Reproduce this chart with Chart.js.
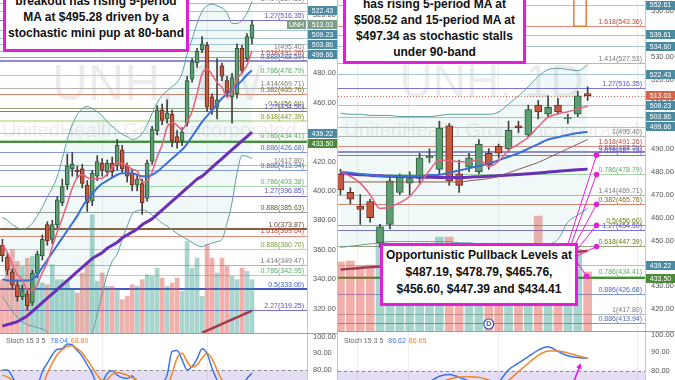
<!DOCTYPE html>
<html>
<head>
<meta charset="utf-8">
<title>UNH weekly and daily</title>
<script src="https://cdn.jsdelivr.net/npm/chart.js@4.4.1/dist/chart.umd.min.js"></script>
<style>
html,body{margin:0;padding:0;background:#ffffff;}
#wrap{position:relative;width:675px;height:380px;overflow:hidden;background:#fff;}
#wrap canvas{position:absolute;display:block;}
.sep{position:absolute;left:337px;top:0;width:1px;height:380px;background:#c4c4c4;}
.note{position:absolute;box-sizing:border-box;border:3px solid #e21fd8;background:#fff;color:#111;font-family:"Liberation Sans",Arial,sans-serif;font-weight:bold;font-size:12px;text-align:center;white-space:nowrap;}
</style>
</head>
<body>
<div id="wrap">
 <canvas id="lp" width="337" height="333" style="left:0;top:0"></canvas>
 <canvas id="ls" width="337" height="47" style="left:0;top:333px"></canvas>
 <canvas id="rp" width="337" height="331" style="left:338px;top:0"></canvas>
 <canvas id="rs" width="337" height="49" style="left:338px;top:331px"></canvas>
 <div class="sep"></div>
 <div class="note" style="left:3px;top:-12px;width:186px;height:64px;padding-top:2px;line-height:16px">breakout has rising 5-period<br>MA at $495.28 driven by a<br>stochastic mini pup at 80-band</div>
 <div class="note" style="left:343px;top:-9px;width:183px;height:73px;padding-top:2px;line-height:16px">has rising 5-period MA at<br>$508.52 and 15-period MA at<br>$497.34 as stochastic stalls<br>under 90-band</div>
 <div class="note" style="left:380px;top:243px;width:198px;height:63px;padding-top:1px;line-height:17px">Opportunistic Pullback Levels at<br>$487.19, $478.79, $465.76,<br>$456.60, $447.39 and $434.41</div>
</div>
<script>
// ================= DATA =================
// ---- Left pane: UNH, 1W ----
const leftOpen  = [363,355,345,336,328,330,324,344,356,377,367,377,392,404,415,414,415,404,393,410,419,413,419,417,428,417,412,404,405,395,420,441,455,449,452,437,434,446,476,487,496,499,464,457,485,475,464,466,497,490,504];
const leftHigh  = [367,358,347,339,336,333,346,359,370,379,380,396,408,425,426,417,418,407,414,424,422,421,423,435,431,419,415,411,408,421,444,458,459,462,455,441,443,478,490,497,505,501,466,490,487,478,480,500,499,507,516];
const leftLow   = [352,343,333,325,326,319,322,341,353,363,364,375,390,401,410,409,402,386,390,407,410,410,409,414,412,406,400,400,384,393,418,438,445,446,430,429,431,444,474,484,494,454,452,449,475,464,446,463,480,488,500];
const leftClose = [356,346,336,328,332,322,344,357,367,366,377,394,403,417,418,413,405,392,412,420,414,419,413,431,415,410,404,408,392,419,442,455,448,453,434,433,440,475,488,495,500,457,455,462,478,467,477,497,482,505,513.03];
const leftVolume = [16,21,25,21.5,20,22.5,23,18,15,14.5,20.5,16,16,15.5,13,12,18,20.8,35.5,15.5,18,14,14,13,10,11,14.5,14,16,17.5,17,19.5,16.5,14,15,16.5,12.5,27.5,19.5,22.5,11,26.5,22.5,18,22.5,20,17,16,19.5,18.5,16];
const leftMA5   = [364,358,350,343,339.6,332.8,332.4,336.6,344.4,351.2,362.2,372.2,381.4,391.4,401.8,409,411.2,409,408,408.4,408.6,411.4,415.6,419.4,418.4,417.6,414.6,413.6,405.8,406.6,413,423.2,431.2,443.4,446.4,444.6,441.6,447,454,466.2,479.6,483,479,473.8,470.4,463.8,467.8,476.2,480.2,485.6,495.28];
const leftMA15  = [340,339,339,339,339,339,340,343,348,353,358,363,368,373,378,383,389,394,398,402,405,407,409,411,412,412,412,411,410,410,411,413,416,419,422,425,428,432,437,442,447,451,455,459,463,466,469,472,475,479,482];
const leftMA50  = [308,309,310,311,313,315,318,321,324,327,330,333,336,339,342,345,348,351,354,356,358,361,363,365,368,370,372,374,377,379,381,384,387,390,393,396,399,402,405,408,410,413,416,419,422,425,428,431,434,437,440];
const leftMA200 = [null,null,null,null,null,null,null,null,null,null,null,null,null,null,null,null,null,null,null,null,null,null,null,null,null,null,null,null,null,null,null,null,null,null,null,null,null,null,null,null,303.5,305,306.5,308,309.5,311,312.5,314,315.5,317,318.6];
const leftBBUpper = [382,380,377,375,374,375,378,383,389,396,402,410,422,435,445,452,456,457.5,456,454,451,447,444,441,438.5,437,435,436,439,445,453,460,465,468,471,474,480,493,503,514,522,526,527,526,524.5,521,514,514,516,521,529];
const leftBBLower = [328,323,318,314,311,309,308,307,306,304,300,295,290,286,284,285,289,295,303,316,330,343,352,357,367,376,384,386.5,387,386,383.5,381,378,376,373.5,371,369,367,365,363,362,363.5,364.5,365.5,367,378,392,412,424,423.5,422];
const leftStochK = [80,80,76,70,64,60,62,70,79,84,89,92.2,92.6,95.3,94.7,91.5,88,83,78,72,73,78,79.5,77,75.5,75,76.5,72,66,62,63,67,72,77,91,91.5,86,80,82,86.5,92.5,89.7,81,74,68,64,63,65,69,75,78.04];
const leftStochD = [77,76,74,71,67,63,61,63,70,78,84,89,92,94,94.3,92.5,90,86,81.5,77,74,74.5,77.5,78.5,78,77,75.5,74,70,66,63,63,66,70,78,87,89.8,85,81.7,83,87,89.8,86.5,80,74,69,66,64.5,65,67,68.8];

// ---- Right pane: UNH, 1D ----
const rightOpen  = [479,471,465,467,449,457,471,475,477,486,481,500,479,482,480,488,491,490,500,496,509,505,509,503,505,514];
const rightHigh  = [481,473,470,468,457,478,479,480,488,490,502,501,485,488,494,490,492,502,502,509,511,513,512,505,515,517];
const rightLow   = [470,466,457,458,447,455,470,470,475,484,479,474,471,480,479,481,486,489,497,495,503,504,505,501,504,511];
const rightClose = [472,468,463.5,460,456,476,478,477,486,486.7,499,476,474,486,492,483,488,498,499,507,506,508,506,503.6,513,513.03];
const rightVolume = [3.45,3.5,3.25,3.3,5.2,4.2,3.5,3.0,3.2,3.4,4.7,4.7,3.8,3.4,3.9,3.2,3.0,3.5,4.1,3.0,5.75,3.7,3.5,3.0,4.1,2.95];
const rightMA5   = [480,478,475,470,463.9,464.7,466.5,469.2,474.4,480.5,485.1,484.9,484.3,484.3,485.4,482.2,484.6,489.4,492,495,499.6,503.6,505.2,506.1,507.3,508.52];
const rightMA15  = [480,479.5,479,478.5,478,478,478,478,478,478.5,478.7,479.5,480.5,481.5,482.5,483.5,485,486.5,488,490,492,494,495,496,496.8,497.34];
const rightMA30  = [475.5,475.5,475.5,475.5,475.5,475.5,475.5,475.5,475.5,475.5,475.5,475.5,475.5,476,476.5,477,478,479.5,481,482.5,484,486,488,490,492,494];
const rightMA50  = [479.5,479,478.7,478.4,478.2,478,477.9,477.8,477.7,477.6,477.5,477.5,477.5,477.6,477.8,478,478.2,478.5,478.8,479.1,479.4,479.8,480.2,480.5,480.8,481.1];
const rightMA200 = [437.4,437.7,438.0,438.4,438.7,439.0,439.3,439.6,440.0,440.3,440.6,440.9,441.3,441.6,441.9,442.2,442.5,442.9,443.2,443.5,443.8,444.2,444.5,444.8,445.1,445.5];
const rightBBUpper = [505.5,505,505,504.5,504.5,504.5,504,504,504,504,504.5,505,505,505,505,505,506,509.5,513,517,521.5,524.5,525,524.5,524,526.5];
const rightBBLower = [447,447.5,448,448.5,449,449.5,449.5,449.5,449.5,449.5,449.5,449.5,449,449,448.5,448.5,448.5,448.5,448.5,448.5,448.5,448.5,450.5,458,461,464];
const rightStochK = [55,50,45,40,38,45,55,63,70,74,77,78,76.5,74.5,72,71,74,80.5,84,87.5,91,92.8,90.3,88,87,86.62];
const rightStochD = [60,55,50,45,41,40,44,51,60,67,73,75.5,76.7,76.8,76.5,75,73.5,75,79.5,84,88.2,90.6,90.5,89.5,88,86.65];

// ---- Fibonacci levels, price lines, axis boxes, ticks ----
const leftFibRatios = ['1.414','1.27','1','1.618','0.888','0.786','1.414','0.382','0.5','1.27','0.618','0.786','0.886','1','0.886','0.786','1.27','0.888','1.0','1.618','0.888','1.414','0.786','0.5','2.27'];
const leftFibValues = [527.53,516.35,495.40,491.26,488.59,478.79,469.71,465.76,456.60,454.50,447.39,434.41,426.68,417.80,413.94,403.38,396.85,385.63,373.87,369.64,360.70,349.47,342.95,333.00,319.25];
const rightFibRatios = ['1.618','1.414','1.27','1','1.618','2.618','0.888','0.786','1.414','0.382','0.5','1.27','0.618','0.786','0.886','1','0.886'];
const rightFibValues = [543.36,527.53,516.35,495.40,491.26,487.19,488.59,478.79,469.71,465.76,456.60,454.50,447.39,434.41,426.68,417.80,413.94];
const leftPriceLines  = [522.43,509.23,503.86,499.66,439.22];
const rightPriceLines = [552.61,539.61,534.60,522.43,509.23,503.86,499.66,439.22];
const supportLevel = 433.50;
const lastPrice = 513.03;
const leftAxisBoxes  = [522.43,513.03,509.23,503.86,499.66,439.22,433.50];
const rightAxisBoxes = [552.61,539.61,534.60,522.43,513.03,509.23,503.86,499.66,439.22,433.50];
const leftTicks  = [320,340,360,380,400,420,440,460,480,500,520];
const rightTicks = [420,430,440,450,460,470,480,490,500,510,520,530,540,550];
const stochTicks = [80,90,100];
const pullbackLevels = [487.19,478.79,465.76,456.60,447.39,434.41];
const leftStochLast  = [78.04, 68.80];
const rightStochLast = [86.62, 86.65];

// ================= STYLE =================
const SANS = '"Liberation Sans", Arial, sans-serif';
function font(px, bold){ return (bold ? 'bold ' : '') + px + 'px ' + SANS; }
const FIB_STYLE = {
  gray:{line:'#b6b6b6', text:'#7a7a7a', w:1},
  purple:{line:'#7d70d8', text:'#5a4fc6', w:1},
  red:{line:'#e4897f', text:'#c4463a', w:1},
  blue:{line:'#8398d8', text:'#4d6bb3', w:1},
  navy:{line:'#6f63c8', text:'#4d6bb3', w:1.5},
  green:{line:'#aad8ab', text:'#58ad64', w:1},
  brown:{line:'#d9836f', text:'#8a6616', w:1},
  olive:{line:'#9aa07a', text:'#6b7d12', w:1},
  lgreen:{line:'#cbe7b4', text:'#7d8c1c', w:2},
  dkgray:{line:'#9c9c9c', text:'#5f5a3a', w:1},
  brownthick:{line:'#8b5f3d', text:'#6e4a2a', w:2},
  ygreen:{line:'#b9dd98', text:'#79a53a', w:1},
  bluethick:{line:'#4159c6', text:'#4159c6', w:2}
};
const leftFibKinds = ['gray','purple','gray','red','navy','green','gray','brown','olive','purple','lgreen','green','blue','gray','blue','green','purple','dkgray','brownthick','red','ygreen','gray','green','bluethick','purple'];
const rightFibKinds = ['red','gray','purple','gray','red','purple','navy','green','gray','brown','olive','purple','olive','green','blue','gray','blue'];
const BOX_COLORS = {steel:'#4b8ba1', lastUp:'#7e9f87', lastDn:'#d4654c', green:'#4e8a3c'};
const leftBoxKinds  = ['steel','lastUp','steel','steel','steel','steel','green'];
const rightBoxKinds = ['steel','steel','steel','steel','lastDn','steel','steel','steel','steel','green'];
const UP_BODY='#5c9e72', UP_EDGE='#2e5e3c', DN_BODY='#c4593f', DN_EDGE='#6f2a1c', WICK='#404040';
const VOL_UP='rgba(38,150,130,0.40)', VOL_DN='rgba(224,82,72,0.46)';
const BB_LINE='#5f9ea0', BB_FILL='rgba(80,170,160,0.08)';
const MAGENTA='#e21fd8';

function idx(arr){ return arr.map((v,i)=>({x:i, y:v})); }
function hline(ctx, a, py, color, w, dash){
  ctx.save();
  ctx.strokeStyle=color; ctx.lineWidth=w;
  if (dash) ctx.setLineDash(dash);
  const yy = (w % 2 === 1) ? Math.round(py)+0.5 : Math.round(py);
  ctx.beginPath(); ctx.moveTo(a.left, yy); ctx.lineTo(a.right, yy); ctx.stroke();
  ctx.restore();
}
function vgrid(ctx, a, x, list){
  ctx.save(); ctx.strokeStyle='#eeeeee'; ctx.lineWidth=1;
  list.forEach(g=>{ const px=Math.round(x.getPixelForValue(g))+0.5; ctx.beginPath(); ctx.moveTo(px,a.top); ctx.lineTo(px,a.bottom); ctx.stroke(); });
  ctx.restore();
}

function pricePlugin(o){
  return {
    id:'priceOverlay',
    beforeDatasetsDraw(chart){
      const {ctx, chartArea:a, scales} = chart; const x=scales.x, y=scales.y;
      ctx.save();
      vgrid(ctx, a, x, o.gridX);
      ctx.fillStyle='rgba(0,0,0,0.075)'; ctx.textBaseline='alphabetic';
      ctx.font=font(o.wmSize); ctx.textAlign=o.wmAlign; ctx.fillText(o.wmText, o.wmX, o.wmY);
      ctx.font=font(20); ctx.textAlign=o.coAlign; ctx.fillText('UnitedHealth Group Incorporated', o.coX, 137);
      o.priceLines.forEach(v=>hline(ctx,a,y.getPixelForValue(v),'#a9c5d0',1));
      o.fibValues.forEach((v,i)=>{ const s=FIB_STYLE[o.fibKinds[i]]; hline(ctx,a,y.getPixelForValue(v),s.line,s.w); });
      hline(ctx,a,y.getPixelForValue(supportLevel),'#4e8a3c',2);
      if (o.dotted) hline(ctx,a,y.getPixelForValue(lastPrice),o.dotted,1,[1,2]);
      ctx.restore();
    },
    afterDatasetsDraw(chart){
      const {ctx, chartArea:a, scales} = chart; const x=scales.x, y=scales.y;
      const W=chart.width, Hh=chart.height;
      ctx.save();
      ctx.font=font(7); ctx.textAlign='right'; ctx.textBaseline='bottom';
      o.fibValues.forEach((v,i)=>{ const s=FIB_STYLE[o.fibKinds[i]]; ctx.fillStyle=s.text;
        ctx.fillText(o.fibRatios[i]+'('+v.toFixed(2)+')', a.right-3, y.getPixelForValue(v)-0.5); });
      if (o.extra) o.extra(chart);
      // axis area
      ctx.fillStyle='#ffffff'; ctx.fillRect(a.right, 0, W-a.right, Hh);
      ctx.strokeStyle='#c6c6c6'; ctx.lineWidth=1;
      ctx.beginPath(); ctx.moveTo(a.right+0.5,0); ctx.lineTo(a.right+0.5,Hh); ctx.stroke();
      ctx.fillStyle='#555'; ctx.font=font(7.5); ctx.textAlign='left'; ctx.textBaseline='middle';
      o.ticks.forEach(t=>{ const py=y.getPixelForValue(t); if (py>2 && py<Hh-2) ctx.fillText(t.toFixed(2), a.right+6, py); });
      let prev=-1e9; const BH=9;
      o.boxValues.forEach((v,i)=>{
        let cy=y.getPixelForValue(v); if (cy < prev+10) cy=prev+10; prev=cy;
        const kind=o.boxKinds[i];
        ctx.fillStyle=BOX_COLORS[kind]; ctx.fillRect(a.right+1, Math.round(cy-BH/2), W-a.right-1, BH);
        ctx.fillStyle='#fff'; ctx.font=font(7); ctx.textAlign='center'; ctx.textBaseline='middle';
        ctx.fillText(v.toFixed(2), (a.right+1+W)/2, cy+0.5);
        if (kind==='lastUp' && o.tag){
          ctx.fillStyle=BOX_COLORS[kind]; ctx.fillRect(a.right-20, Math.round(cy-BH/2), 19, BH);
          ctx.fillStyle='#fff'; ctx.fillText(o.tag, a.right-10.5, cy+0.5);
        }
      });
      ctx.restore();
    }
  };
}

function buildPrice(id, P, o){
  const up = P.open.map((v,i)=>P.close[i]>=v);
  const line = (data,color,w,order)=>({type:'line', data:idx(data), borderColor:color, borderWidth:w, pointRadius:0, tension:0.3, cubicInterpolationMode:'monotone', fill:false, order, yAxisID:'y'});
  const ds = [
    {type:'bar', data:idx(P.volume), yAxisID:'v', backgroundColor:up.map(u=>u?VOL_UP:VOL_DN), barThickness:o.volW, grouped:false, order:30},
    {type:'line', data:idx(P.bbU), borderColor:BB_LINE, borderWidth:1, pointRadius:0, tension:0.3, cubicInterpolationMode:'monotone', fill:'+1', backgroundColor:BB_FILL, order:25, yAxisID:'y'},
    {type:'line', data:idx(P.bbL), borderColor:BB_LINE, borderWidth:1, pointRadius:0, tension:0.3, cubicInterpolationMode:'monotone', fill:false, order:24, yAxisID:'y'},
    {type:'bar', data:P.open.map((v,i)=>({x:i, y:[P.low[i],P.high[i]]})), backgroundColor:WICK, barThickness:1, grouped:false, order:12, yAxisID:'y'},
    {type:'bar', data:P.open.map((v,i)=>({x:i, y:[Math.min(v,P.close[i]), Math.max(v,P.close[i])]})), backgroundColor:up.map(u=>u?UP_BODY:DN_BODY), borderColor:up.map(u=>u?UP_EDGE:DN_EDGE), borderWidth:1, borderSkipped:false, barThickness:o.bodyW, grouped:false, order:11, yAxisID:'y'}
  ];
  P.lines.forEach(L=>ds.push(line(L[0],L[1],L[2],L[3])));
  return new Chart(document.getElementById(id), {
    type:'bar',
    data:{datasets:ds},
    options:{
      responsive:false, animation:false, devicePixelRatio:1, events:[],
      layout:{padding:{left:0,right:30,top:0,bottom:0}},
      plugins:{legend:{display:false}, tooltip:{enabled:false}},
      scales:{
        x:{type:'linear', min:o.xmin, max:o.xmax, display:false, offset:false},
        y:{type:'linear', min:o.ymin, max:o.ymax, display:false, beginAtZero:false},
        v:{type:'linear', min:0, max:o.vmax, display:false}
      }
    },
    plugins:[pricePlugin(o)]
  });
}

function stochPlugin(o){
  return {
    id:'stochOverlay',
    beforeDatasetsDraw(chart){
      const {ctx, chartArea:a, scales:{x,y}} = chart;
      ctx.save();
      vgrid(ctx, a, x, o.gridX);
      const y80=y.getPixelForValue(80);
      ctx.fillStyle='rgba(126,87,194,0.20)'; ctx.fillRect(a.left, y80, a.right-a.left, a.bottom-y80);
      hline(ctx,a,y80,'#8a8a8a',1,[3,3]);
      ctx.restore();
    },
    afterDatasetsDraw(chart){
      const {ctx, chartArea:a, scales:{x,y}} = chart; const W=chart.width, Hh=chart.height;
      ctx.save();
      ctx.font=font(7); ctx.textBaseline='middle'; ctx.textAlign='left';
      let lx=6; ctx.fillStyle='#666'; ctx.fillText('Stoch 15 3 5', lx, o.legendY); lx+=ctx.measureText('Stoch 15 3 5').width+5;
      ctx.fillStyle='#3a76e6'; ctx.fillText(o.last[0].toFixed(2), lx, o.legendY); lx+=ctx.measureText(o.last[0].toFixed(2)).width+3;
      ctx.fillStyle='#f0862a'; ctx.fillText(o.last[1].toFixed(2), lx, o.legendY);
      if (o.arrow){
        const tx=x.getPixelForValue(o.arrow[0]), ty=y.getPixelForValue(o.arrow[1]);
        const sx=tx-7, sy=Hh+2; const ang=Math.atan2(ty-sy, tx-sx);
        ctx.strokeStyle=MAGENTA; ctx.fillStyle=MAGENTA; ctx.lineWidth=1.6;
        ctx.beginPath(); ctx.moveTo(sx,sy); ctx.lineTo(tx-Math.cos(ang)*3, ty-Math.sin(ang)*3); ctx.stroke();
        ctx.beginPath(); ctx.moveTo(tx,ty);
        ctx.lineTo(tx-Math.cos(ang-0.5)*6, ty-Math.sin(ang-0.5)*6);
        ctx.lineTo(tx-Math.cos(ang+0.5)*6, ty-Math.sin(ang+0.5)*6); ctx.closePath(); ctx.fill();
      }
      ctx.fillStyle='#ffffff'; ctx.fillRect(a.right, 0, W-a.right, Hh);
      ctx.strokeStyle='#c6c6c6'; ctx.lineWidth=1;
      ctx.beginPath(); ctx.moveTo(a.right+0.5,0); ctx.lineTo(a.right+0.5,Hh); ctx.stroke();
      ctx.strokeStyle='#9e9e9e'; ctx.beginPath(); ctx.moveTo(0,0.5); ctx.lineTo(W,0.5); ctx.stroke();
      ctx.fillStyle='#555'; ctx.font=font(7.5); ctx.textAlign='left'; ctx.textBaseline='middle';
      stochTicks.forEach(t=>{ ctx.fillText(t.toFixed(2), a.right+6, Math.max(4, y.getPixelForValue(t))); });
      ctx.restore();
    }
  };
}

function buildStoch(id, K, D, o){
  const ln=(d,c,ord)=>({data:idx(d), borderColor:c, borderWidth:1.5, pointRadius:0, tension:0.3, cubicInterpolationMode:'monotone', fill:false, order:ord});
  return new Chart(document.getElementById(id), {
    type:'line',
    data:{datasets:[ln(K,'#3a76e6',2), ln(D,'#f0862a',1)]},
    options:{
      responsive:false, animation:false, devicePixelRatio:1, events:[],
      layout:{padding:{left:0,right:30,top:0,bottom:0}},
      plugins:{legend:{display:false}, tooltip:{enabled:false}},
      scales:{
        x:{type:'linear', min:o.xmin, max:o.xmax, display:false, offset:false},
        y:{type:'linear', min:o.ymin, max:o.ymax, display:false, beginAtZero:false}
      }
    },
    plugins:[stochPlugin(o)]
  });
}

// ---- right pane extras: pullback dots, connectors, rectangle, dividend marker ----
function rightExtra(chart){
  const {ctx, chartArea:a, scales:{x,y}} = chart;
  ctx.save();
  // orange rectangle
  const rx0=x.getPixelForValue(23.6), rx1=x.getPixelForValue(24.85);
  const ry1=y.getPixelForValue(543.36);
  ctx.strokeStyle='#ef7a2a'; ctx.lineWidth=1.5; ctx.strokeRect(rx0, -2, rx1-rx0, ry1+2);
  // dividend marker
  const dx=x.getPixelForValue(15), dy=a.bottom-7;
  ctx.fillStyle='#fff'; ctx.strokeStyle='#3f51b5'; ctx.lineWidth=1.2;
  ctx.beginPath(); ctx.arc(dx,dy,5,0,Math.PI*2); ctx.fill(); ctx.stroke();
  ctx.fillStyle='#3f51b5'; ctx.font=font(7,true); ctx.textAlign='center'; ctx.textBaseline='middle'; ctx.fillText('D', dx, dy+0.5);
  // connectors and dots
  const origins=[[228,250],[231,250],[234,250],[237,252],[239,256],[239,262]];
  const dotX=[25.9,25.9,25.9,25.9,25.9,24.9];
  ctx.strokeStyle=MAGENTA; ctx.fillStyle=MAGENTA; ctx.lineWidth=1;
  pullbackLevels.forEach((v,i)=>{
    const px=x.getPixelForValue(dotX[i]), py=y.getPixelForValue(v);
    ctx.beginPath(); ctx.moveTo(origins[i][0],origins[i][1]); ctx.lineTo(px,py); ctx.stroke();
    ctx.beginPath(); ctx.arc(px,py,2.8,0,Math.PI*2); ctx.fill();
  });
  ctx.restore();
}

// ================= BUILD =================
const LX={xmin:-0.48, xmax:61.02}, RX={xmin:-0.25, xmax:30.8};
buildPrice('lp', {
  open:leftOpen, high:leftHigh, low:leftLow, close:leftClose, volume:leftVolume,
  bbU:leftBBUpper, bbL:leftBBLower,
  lines:[[leftMA200,'#a33c4f',2.5,6],[leftMA50,'#6a2fb6',3,5],[leftMA15,'#3b6fd6',2,3],[leftMA5,'#e8607c',1.5,2]]
}, Object.assign({}, LX, {
  ymin:303.33, ymax:529.86, vmax:100, volW:4, bodyW:4,
  gridX:[20,41], wmText:'UNH, 1W', wmSize:50, wmAlign:'left', wmX:52, wmY:100, coAlign:'left', coX:2,
  priceLines:leftPriceLines, fibValues:leftFibValues, fibRatios:leftFibRatios, fibKinds:leftFibKinds,
  ticks:leftTicks, boxValues:leftAxisBoxes, boxKinds:leftBoxKinds, tag:'UNH'
}));
buildStoch('ls', leftStochK, leftStochD, Object.assign({}, LX, {ymin:74.12, ymax:101.76, gridX:[20,41], legendY:8, last:leftStochLast}));

buildPrice('rp', {
  open:rightOpen, high:rightHigh, low:rightLow, close:rightClose, volume:rightVolume,
  bbU:rightBBUpper, bbL:rightBBLower,
  lines:[[rightMA200,'#a33c4f',2.5,6],[rightMA50,'#6a2fb6',3,5],[rightMA30,'#8a5a50',1,4],[rightMA15,'#3b6fd6',2,3],[rightMA5,'#e8607c',1.5,2]]
}, Object.assign({}, RX, {
  ymin:410.57, ymax:554.79, vmax:16.55, volW:8, bodyW:7,
  gridX:[1.67,6.83,15.93,30], wmText:'UNH, 1D', wmSize:46, wmAlign:'center', wmX:153.5, wmY:97, coAlign:'center', coX:153.5,
  priceLines:rightPriceLines, fibValues:rightFibValues, fibRatios:rightFibRatios, fibKinds:rightFibKinds,
  ticks:rightTicks, boxValues:rightAxisBoxes, boxKinds:rightBoxKinds, dotted:'#d4654c', extra:rightExtra
}));
buildStoch('rs', rightStochK, rightStochD, Object.assign({}, RX, {ymin:75.03, ymax:101.23, gridX:[1.67,6.83,15.93,30], legendY:10.5, last:rightStochLast, arrow:[24.3,84]}));
</script>
</body>
</html>
